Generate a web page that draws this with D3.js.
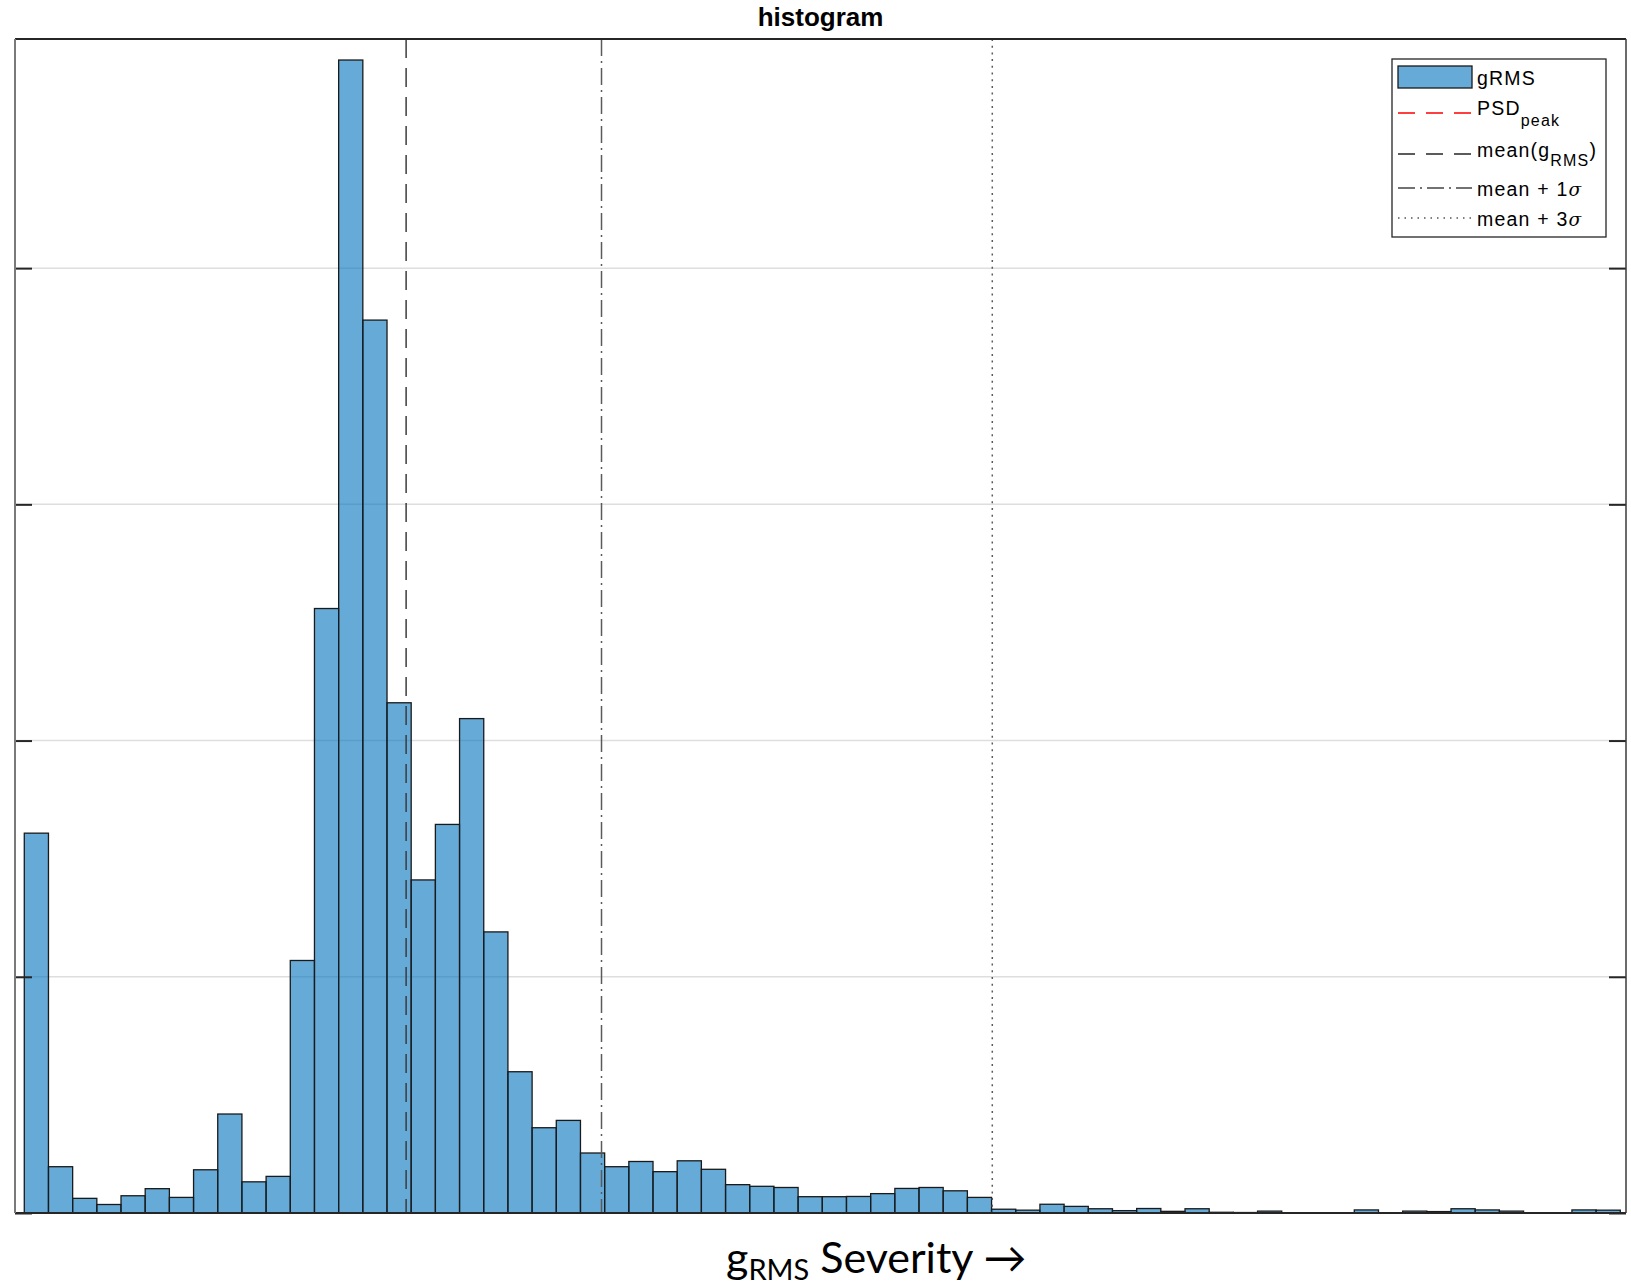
<!DOCTYPE html>
<html>
<head>
<meta charset="utf-8">
<script src="https://cdn.jsdelivr.net/npm/d3@7"></script>
<style>
  body { margin: 0; background: #fff; }
  svg { display: block; }
</style>
</head>
<body>
<div id="chart"></div>
<script>
// histogram counts, one per bin (66 equal bins, bin index units)
var binCounts = [
    160.8, 19.6, 6.2, 3.6, 7.3, 10.3, 6.6, 18.3, 41.9, 13.2, 15.5,
    106.9, 255.9, 488.1, 378, 216, 141, 164.5, 209.3, 119, 59.8,
    36.1, 39.2, 25.4, 19.6, 21.8, 17.5, 22.1, 18.5, 12, 11.3,
    10.8, 6.9, 6.9, 7.0, 8.2, 10.4, 10.8, 9.4, 6.6, 1.6,
    1.2, 3.7, 2.8, 1.8, 1.0, 1.9, 0.7, 1.8, 0.3, 0.2,
    0.8, 0.1, 0.1, 0.1, 1.3, 0.1, 0.8, 0.6, 1.8, 1.3,
    0.8, 0.1, 0.05, 1.3, 1.2
];
var binStart = 0,
    binWidth = 1;

// reference lines
var meanValue = 15.79,
    sigmaValue = 8.08;

var xLimits = [-0.384, 66.236];
var yLimits = [0, 497];
var yTicks = [0, 100, 200, 300, 400];

var legendLabels = ['gRMS', 'PSD', 'mean(g', 'mean + 1', 'mean + 3'];

var initialWidth = 1631,
    initialHeight = 1287;
var margin = { top: 39, left: 15, bottom: 74, right: 5 },
    width = initialWidth - margin.left - margin.right,
    height = initialHeight - margin.top - margin.bottom;

var svg = d3.select('#chart').append('svg')
    .attr('width', initialWidth)
    .attr('height', initialHeight)
    .style('font-family', '"Liberation Sans", Arial, sans-serif');

var g = svg.append('g')
    .attr('transform', 'translate(' + margin.left + ',' + margin.top + ')');

const x = d3.scaleLinear().domain(xLimits).range([0, width]);
const y = d3.scaleLinear().domain(yLimits).range([height, 0]);

var bins = binCounts.map(function(c, i) {
    return { x0: binStart + i * binWidth, x1: binStart + (i + 1) * binWidth, count: c };
});

// horizontal grid
g.selectAll('.grid')
    .data(yTicks.filter(t => t > 0))
    .join('line')
    .attr('class', 'grid')
    .attr('x1', 0).attr('x2', width)
    .attr('y1', d => y(d)).attr('y2', d => y(d))
    .attr('stroke', '#dedede')
    .attr('stroke-width', 1.5);

// bars
g.selectAll('rect.bar')
    .data(bins)
    .join('rect')
    .attr('class', 'bar')
    .attr('x', d => x(d.x0))
    .attr('width', d => x(d.x1) - x(d.x0))
    .attr('y', d => y(d.count))
    .attr('height', d => y(0) - y(d.count))
    .attr('fill', '#0072bd')
    .attr('fill-opacity', 0.6)
    .attr('stroke', '#1a1a1a')
    .attr('stroke-width', 1.3);

// vertical reference lines
var refLines = [
    { v: meanValue, dash: '19,10', color: '#3c3c3c' },
    { v: meanValue + sigmaValue, dash: '17,5,2,5', color: '#5a5a5a' },
    { v: meanValue + 3 * sigmaValue, dash: '2,4.7', color: '#5a5a5a' }
];
g.selectAll('.ref')
    .data(refLines)
    .join('line')
    .attr('class', 'ref')
    .attr('x1', d => x(d.v)).attr('x2', d => x(d.v))
    .attr('y1', 0).attr('y2', height)
    .attr('stroke', d => d.color)
    .attr('stroke-width', 1.5)
    .attr('stroke-dasharray', d => d.dash);

// y ticks, inward on both sides, no labels
g.append('g')
    .call(d3.axisLeft(y).tickValues(yTicks).tickSize(-17).tickFormat(''))
    .call(s => s.select('.domain').remove())
    .selectAll('line').attr('stroke', '#262626').attr('stroke-width', 2);
g.append('g')
    .attr('transform', 'translate(' + width + ',0)')
    .call(d3.axisRight(y).tickValues(yTicks).tickSize(-17).tickFormat(''))
    .call(s => s.select('.domain').remove())
    .selectAll('line').attr('stroke', '#262626').attr('stroke-width', 2);

// box
g.append('line').attr('x1', 0).attr('x2', width).attr('y1', 0).attr('y2', 0)
    .attr('stroke', '#262626').attr('stroke-width', 2);
g.append('line').attr('x1', 0).attr('x2', width).attr('y1', height).attr('y2', height)
    .attr('stroke', '#262626').attr('stroke-width', 2.2);
g.append('line').attr('x1', 0).attr('x2', 0).attr('y1', 0).attr('y2', height)
    .attr('stroke', '#7a7a7a').attr('stroke-width', 2);
g.append('line').attr('x1', width).attr('x2', width).attr('y1', 0).attr('y2', height)
    .attr('stroke', '#3a3a3a').attr('stroke-width', 1.5);

// title
svg.append('text')
    .attr('x', margin.left + width / 2)
    .attr('y', 26)
    .attr('text-anchor', 'middle')
    .style('font-size', '26px')
    .style('font-weight', 'bold')
    .text('histogram');

// legend
var lg = svg.append('g').attr('transform', 'translate(1392,59)');
lg.append('rect')
    .attr('width', 214).attr('height', 178)
    .attr('fill', '#fff')
    .attr('stroke', '#262626')
    .attr('stroke-width', 1.3);

lg.append('rect')
    .attr('x', 6).attr('y', 7).attr('width', 74).attr('height', 22)
    .attr('fill', '#0072bd').attr('fill-opacity', 0.6)
    .attr('stroke', '#1a1a1a').attr('stroke-width', 1.3);

var legendLines = [
    { y: 54, color: '#ff0000', dash: '17,11' },
    { y: 95, color: '#262626', dash: '17,11' },
    { y: 129, color: '#444', dash: '17,5,2,5' },
    { y: 159, color: '#555', dash: '1.5,5' }
];
lg.selectAll('.lgline')
    .data(legendLines)
    .join('line')
    .attr('class', 'lgline')
    .attr('x1', 6).attr('x2', 80)
    .attr('y1', d => d.y).attr('y2', d => d.y)
    .attr('stroke', d => d.color)
    .attr('stroke-width', 1.3)
    .attr('stroke-dasharray', d => d.dash);

var tstyle = function(t) {
    return t.style('font-size', '19.5px').style('letter-spacing', '1.2px').attr('fill', '#000');
};

tstyle(lg.append('text').attr('x', 85).attr('y', 26)).text(legendLabels[0]);

var t1 = tstyle(lg.append('text').attr('x', 85).attr('y', 56));
t1.append('tspan').text(legendLabels[1]);
t1.append('tspan').attr('dy', 11).style('font-size', '16px').text('peak');

var t2 = tstyle(lg.append('text').attr('x', 85).attr('y', 98));
t2.append('tspan').text(legendLabels[2]);
t2.append('tspan').attr('dy', 9).style('font-size', '16px').text('RMS');
t2.append('tspan').attr('dy', -9).text(')');

var t3 = tstyle(lg.append('text').attr('x', 85).attr('y', 137));
t3.append('tspan').text(legendLabels[3]);
t3.append('tspan').style('font-style', 'italic').style('font-family', '"DejaVu Serif", serif').style('font-size', '18.5px').text('σ');

var t4 = tstyle(lg.append('text').attr('x', 85).attr('y', 167));
t4.append('tspan').text(legendLabels[4]);
t4.append('tspan').style('font-style', 'italic').style('font-family', '"DejaVu Serif", serif').style('font-size', '18.5px').text('σ');

// x label
var xl = svg.append('text')
    .attr('x', 726)
    .attr('y', 1273)
    .style('font-family', 'Lato, "Open Sans", sans-serif')
    .style('font-size', '43px')
    .attr('fill', '#000');
xl.append('tspan').text('g');
xl.append('tspan').attr('dy', 7).style('font-size', '29px').text('RMS');
xl.append('tspan').attr('dy', -7).text(' Severity →');
</script>
</body>
</html>
